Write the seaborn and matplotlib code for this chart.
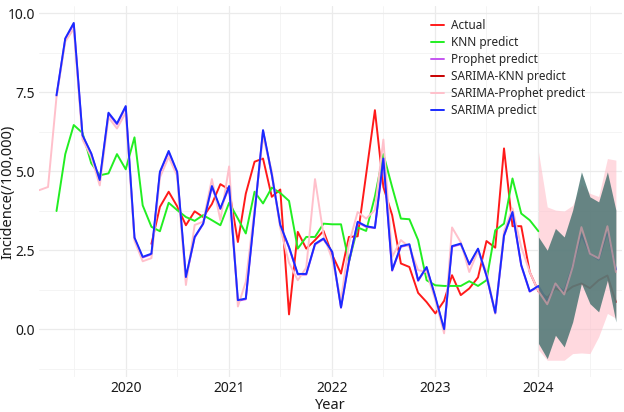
import matplotlib
matplotlib.use("Agg")
import matplotlib.pyplot as plt
import matplotlib.dates as mdates
from matplotlib.ticker import FixedLocator, FormatStrFormatter
import pandas as pd
import seaborn as sns

# monthly incidence (/100,000)
actual_start = "2020-04-01"
actual = [2.7, 3.87, 4.35, 3.89, 3.29, 3.73, 3.55, 3.96, 4.59, 4.42,
          2.76, 4.29, 5.3, 5.4, 4.19, 4.42, 0.47, 3.08, 2.55, 2.82,
          3.11, 2.35, 1.76, 2.92, 2.94, 4.9, 6.93, 4.5, 3.61, 2.08,
          1.97, 1.15, 0.86, 0.5, 0.9, 1.71, 1.08, 1.29, 1.64, 2.79,
          2.58, 5.72, 3.26, 3.26, 1.81, 1.2]

knn_start = "2019-05-01"
knn = [3.74, 5.54, 6.46, 6.21, 5.25, 4.87, 4.93, 5.54, 5.06, 6.07,
       3.92, 3.24, 3.1, 4.0, 3.77, 3.55, 3.43, 3.61, 3.45, 3.29,
       4.0, 3.5, 3.03, 4.35, 3.98, 4.48, 4.31, 4.06, 2.55, 2.92,
       2.92, 3.34, 3.32, 3.32, 2.13, 3.22, 3.11, 4.2, 5.54, 4.5,
       3.5, 3.48, 2.82, 1.55, 1.39, 1.37, 1.37, 1.37, 1.52, 1.37,
       1.55, 3.13, 3.34, 4.77, 3.66, 3.45, 3.1]

prophet_start = "2019-05-01"
prophet = [7.38, 9.18, 9.65, 6.12, 5.55, 4.7, 6.82, 6.48, 7.03, 2.88,
           2.27, 2.37, 4.95, 5.6, 4.95, 1.62, 2.9, 3.33, 4.5, 3.8,
           4.5, 0.9, 0.95, 3.65, 6.28, 4.88, 3.28, 2.58, 1.73, 1.73,
           2.68, 2.85, 2.43, 0.68, 2.12, 3.38, 3.24, 3.2, 5.38, 1.85,
           2.61, 2.67, 1.53, 1.95, 1.0, -0.02, 2.61, 2.69, 2.04, 2.53,
           1.68, 0.5, 2.95, 3.69, 2.01, 1.19, 1.35]

sarima_knn_start = "2024-01-01"
sarima_knn = [1.2, 1.0, 1.3, 1.15, 1.35, 1.45, 1.3, 1.55, 1.7, 0.86]

sarima_prophet_start = "2019-03-01"
sarima_prophet = [4.4, 4.5, 7.35, 9.1, 9.5, 6.0, 5.45, 4.55, 6.7, 6.35,
                  6.85, 2.8, 2.15, 2.25, 4.8, 5.45, 4.85, 1.4, 3.3, 3.4,
                  4.75, 3.45, 5.15, 0.72, 1.5, 3.8, 6.1, 5.0, 3.2, 2.1,
                  1.55, 1.95, 4.75, 3.0, 2.2, 0.92, 2.71, 3.71, 3.5, 3.77,
                  6.0, 2.29, 2.82, 2.6, 1.87, 1.81, 0.92, -0.13, 3.22, 2.75,
                  1.81, 2.48, 1.8, 0.5, 3.1, 3.82, 2.6, 1.81, 1.2, 0.79,
                  1.45, 1.1, 1.97, 3.23, 2.39, 2.24, 3.26, 1.81]

sarima_start = "2019-05-01"
sarima = [7.4, 9.2, 9.69, 6.14, 5.56, 4.72, 6.85, 6.51, 7.06, 2.9,
          2.29, 2.39, 4.98, 5.64, 4.98, 1.65, 2.92, 3.34, 4.53, 3.82,
          4.53, 0.92, 0.97, 3.67, 6.3, 4.9, 3.3, 2.6, 1.75, 1.75,
          2.7, 2.87, 2.45, 0.69, 2.13, 3.4, 3.26, 3.21, 5.4, 1.87,
          2.63, 2.69, 1.55, 1.97, 1.02, 0.0, 2.63, 2.71, 2.06, 2.55,
          1.7, 0.52, 2.97, 3.71, 2.03, 1.2, 1.37, 0.9, 1.4, 1.2,
          2.0, 3.0, 2.4, 2.2, 3.1, 1.89]

# forecast intervals, 2024-01 .. 2024-10
band_start = "2024-01-01"
sp_lower = [-0.65, -0.98, -0.98, -0.98, -0.77, -0.75, -0.77, -0.24, 0.5, 0.35]
sp_upper = [5.61, 3.87, 3.77, 3.74, 3.92, 4.6, 4.3, 4.2, 5.4, 5.35]
s_lower = [-0.45, -0.93, -0.19, -0.56, 0.23, 1.45, 0.81, 0.55, 1.55, 0.23]
s_upper = [2.92, 2.5, 3.19, 2.92, 3.77, 4.98, 4.19, 4.03, 4.98, 3.77]

models = ["Actual", "KNN predict", "Prophet predict", "SARIMA-KNN predict",
          "SARIMA-Prophet predict", "SARIMA predict"]
colors = ["#FF1A1A", "#22EE22", "#C455F0", "#C80000", "#FFC0CB", "#1A2BFF"]

series = [(actual_start, actual), (knn_start, knn), (prophet_start, prophet),
          (sarima_knn_start, sarima_knn), (sarima_prophet_start, sarima_prophet),
          (sarima_start, sarima)]

frames = []
for name, (start, vals) in zip(models, series):
    frames.append(pd.DataFrame({
        "Year": pd.date_range(start, periods=len(vals), freq="MS"),
        "value": vals,
        "model": name,
    }))
df = pd.concat(frames, ignore_index=True)

sns.set_theme(style="whitegrid")
plt.rcParams["font.family"] = ["Noto Sans", "DejaVu Sans"]

fig = plt.figure(figsize=(6.24, 4.12), dpi=100)
ax = fig.add_axes([0.0625, 0.085, 0.934, 0.9])

sns.lineplot(data=df, x="Year", y="value", hue="model", hue_order=models,
             palette=dict(zip(models, colors)), estimator=None, sort=True,
             linewidth=1.4, ax=ax)

band_x = pd.date_range(band_start, periods=len(s_lower), freq="MS")
ax.fill_between(band_x, sp_lower, sp_upper, color="#FFC0CB", alpha=0.6,
                linewidth=0, zorder=3)
ax.fill_between(band_x, s_lower, s_upper, color="#44726F", alpha=0.82,
                linewidth=0, zorder=4)

# SARIMA-Prophet forecast shows faintly over the interval band
fc = df[(df["model"] == "SARIMA-Prophet predict") & (df["Year"] >= band_start)]
sns.lineplot(data=fc, x="Year", y="value", color="#F4A6B4", alpha=0.55,
             linewidth=1.4, ax=ax, zorder=5, legend=False)

ax.set_xlim(pd.Timestamp("2019-02-28"), pd.Timestamp("2024-10-22"))
ax.set_ylim(-1.51, 10.22)

ax.xaxis.set_major_locator(mdates.YearLocator())
ax.xaxis.set_minor_locator(mdates.MonthLocator(bymonth=7))
ax.xaxis.set_major_formatter(mdates.DateFormatter("%Y"))
ax.yaxis.set_major_locator(FixedLocator([0, 2.5, 5, 7.5, 10]))
ax.yaxis.set_minor_locator(FixedLocator([-1.25, 1.25, 3.75, 6.25, 8.75]))
ax.yaxis.set_major_formatter(FormatStrFormatter("%.1f"))

ax.set_facecolor("white")
ax.grid(which="major", color="#EBEBEB", linewidth=0.9)
ax.grid(which="minor", color="#F3F3F3", linewidth=0.6)
ax.set_axisbelow(True)
for s in ax.spines.values():
    s.set_visible(False)
ax.tick_params(which="both", length=0, labelsize=10, labelcolor="#1A1A1A", pad=3)

ax.set_xlabel("Year", fontsize=10.5, color="#1A1A1A", labelpad=1)
ax.set_ylabel("Incidence(/100,000)", fontsize=10.5, color="#1A1A1A")
ax.yaxis.set_label_coords(-0.04, 0.5)

handles, labels = ax.get_legend_handles_labels()
ax.legend(handles[:6], labels[:6], loc="upper left", bbox_to_anchor=(0.655, 0.995),
          frameon=False, fontsize=8.5, handlelength=1.1, handletextpad=0.6,
          labelspacing=0.35)

fig.savefig("out.png", dpi=100)
